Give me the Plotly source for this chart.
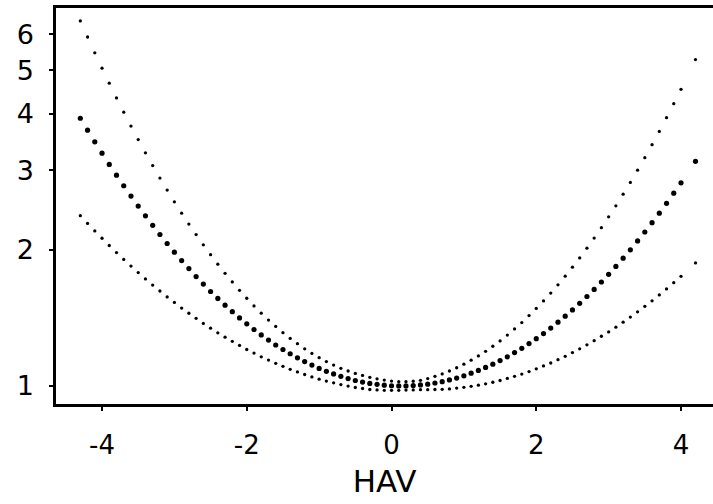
import plotly.graph_objects as go

# HAV values (x positions of the plotted points)
hav = [-4.3, -4.2, -4.1, -4.0, -3.9, -3.8, -3.7, -3.6, -3.5, -3.4, -3.3, -3.2, -3.1, -3.0,
       -2.9, -2.8, -2.7, -2.6, -2.5, -2.4, -2.3, -2.2, -2.1, -2.0, -1.9, -1.8, -1.7, -1.6,
       -1.5, -1.4, -1.3, -1.2, -1.1, -1.0, -0.9, -0.8, -0.7, -0.6, -0.5, -0.4, -0.3, -0.2,
       -0.1, 0.0, 0.1, 0.2, 0.3, 0.4, 0.5, 0.6, 0.7, 0.8, 0.9, 1.0, 1.1, 1.2, 1.3, 1.4,
       1.5, 1.6, 1.7, 1.8, 1.9, 2.0, 2.1, 2.2, 2.3, 2.4, 2.5, 2.6, 2.7, 2.8, 2.9, 3.0,
       3.1, 3.2, 3.3, 3.4, 3.5, 3.6, 3.7, 3.8, 3.9, 4.0, 4.2]

# central estimate
estimate = [3.911, 3.680, 3.468, 3.273, 3.092, 2.926, 2.773, 2.631, 2.500, 2.379, 2.267, 2.163, 2.066, 1.977,
            1.894, 1.818, 1.746, 1.680, 1.618, 1.562, 1.509, 1.460, 1.414, 1.372, 1.333, 1.297, 1.263, 1.232,
            1.204, 1.178, 1.154, 1.132, 1.112, 1.093, 1.077, 1.063, 1.050, 1.038, 1.028, 1.020, 1.013, 1.008,
            1.004, 1.001, 1.000, 1.000, 1.002, 1.005, 1.009, 1.015, 1.022, 1.031, 1.041, 1.053, 1.067, 1.082,
            1.099, 1.117, 1.138, 1.160, 1.185, 1.211, 1.241, 1.272, 1.306, 1.343, 1.384, 1.427, 1.473, 1.523,
            1.577, 1.635, 1.698, 1.766, 1.838, 1.917, 2.001, 2.093, 2.191, 2.297, 2.412, 2.536, 2.670, 2.815,
            3.141]

# upper bound
upper = [6.424, 5.917, 5.460, 5.048, 4.676, 4.339, 4.035, 3.758, 3.508, 3.279, 3.073, 2.884, 2.712, 2.555,
         2.412, 2.281, 2.162, 2.052, 1.952, 1.860, 1.775, 1.699, 1.628, 1.563, 1.503, 1.449, 1.399, 1.354,
         1.312, 1.274, 1.240, 1.208, 1.180, 1.155, 1.132, 1.112, 1.094, 1.079, 1.066, 1.055, 1.045, 1.037,
         1.030, 1.025, 1.022, 1.022, 1.024, 1.029, 1.038, 1.050, 1.063, 1.079, 1.097, 1.117, 1.140, 1.165,
         1.193, 1.224, 1.258, 1.296, 1.337, 1.381, 1.431, 1.484, 1.542, 1.605, 1.674, 1.749, 1.831, 1.920,
         2.018, 2.124, 2.240, 2.367, 2.504, 2.656, 2.820, 3.002, 3.200, 3.419, 3.658, 3.922, 4.212, 4.532,
         5.275]

# lower bound
lower = [2.381, 2.289, 2.203, 2.122, 2.045, 1.973, 1.905, 1.842, 1.782, 1.725, 1.672, 1.622, 1.574, 1.530,
         1.487, 1.448, 1.411, 1.375, 1.342, 1.311, 1.282, 1.255, 1.229, 1.204, 1.182, 1.160, 1.141, 1.122,
         1.105, 1.088, 1.074, 1.060, 1.047, 1.035, 1.025, 1.016, 1.007, 0.999, 0.992, 0.987, 0.982, 0.980,
         0.978, 0.978, 0.978, 0.979, 0.980, 0.981, 0.981, 0.982, 0.983, 0.985, 0.989, 0.993, 0.998, 1.004,
         1.011, 1.019, 1.028, 1.039, 1.050, 1.062, 1.076, 1.091, 1.107, 1.124, 1.143, 1.163, 1.185, 1.208,
         1.233, 1.259, 1.288, 1.317, 1.349, 1.384, 1.420, 1.459, 1.500, 1.543, 1.590, 1.639, 1.692, 1.748,
         1.871]

x_ticks = [-4, -2, 0, 2, 4]
x_tick_labels = ["-4", "-2", "0", "2", "4"]
y_ticks = [1, 2, 3, 4, 5, 6]
y_tick_labels = ["1", "2", "3", "4", "5", "6"]

fig = go.Figure()
fig.add_trace(go.Scatter(x=hav, y=upper, mode="markers",
                         marker=dict(size=3.3, color="black"), showlegend=False))
fig.add_trace(go.Scatter(x=hav, y=lower, mode="markers",
                         marker=dict(size=3.3, color="black"), showlegend=False))
fig.add_trace(go.Scatter(x=hav, y=estimate, mode="markers",
                         marker=dict(size=5.2, color="black"), showlegend=False))

font_family = "DejaVu Sans"
fig.update_layout(
    width=713, height=504,
    margin=dict(l=56, r=0, t=8, b=100),
    paper_bgcolor="white", plot_bgcolor="white",
    font=dict(family=font_family, color="black"),
    xaxis=dict(
        range=[-4.636, 4.442],
        tickvals=x_ticks, ticktext=x_tick_labels,
        ticks="outside", ticklen=4, tickwidth=1.5, tickcolor="black",
        tickfont=dict(size=26, family=font_family),
        showline=True, linecolor="black", linewidth=2.5, mirror=True,
        showgrid=False, zeroline=False,
        title=dict(text="HAV", font=dict(size=31, family=font_family), standoff=12),
        ticklabelstandoff=12,
    ),
    yaxis=dict(
        type="log",
        range=[-0.0400, 0.8363],
        tickvals=y_ticks, ticktext=y_tick_labels,
        ticks="outside", ticklen=4, tickwidth=1.5, tickcolor="black",
        tickfont=dict(size=27, family=font_family),
        showline=True, linecolor="black", linewidth=2.5, mirror=False,
        showgrid=False, zeroline=False,
        ticklabelstandoff=10,
    ),
)

fig.write_html("out.html")
